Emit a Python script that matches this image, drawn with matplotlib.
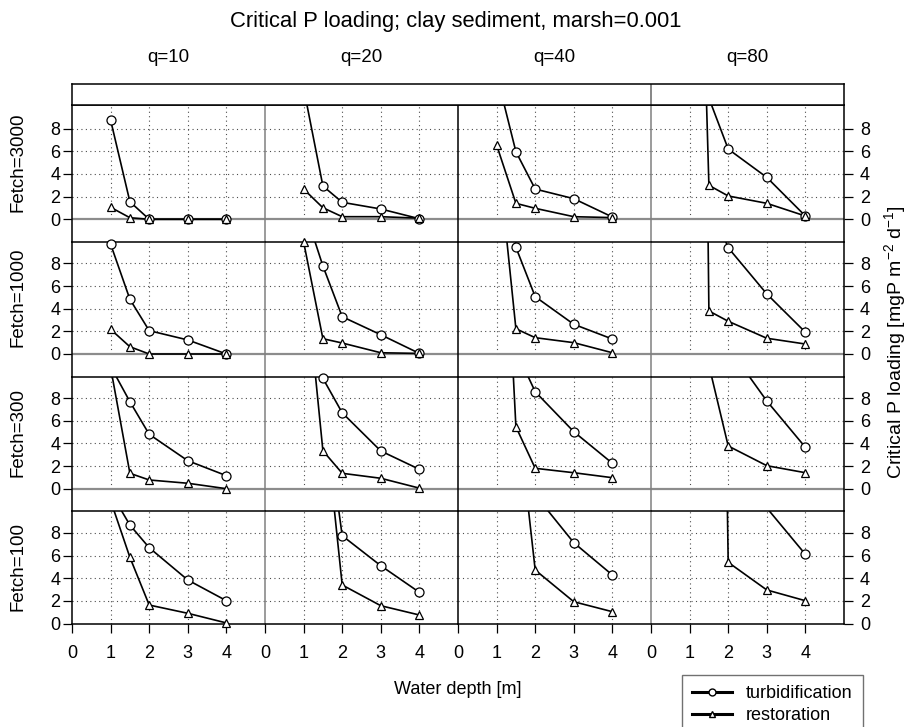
import matplotlib
matplotlib.use("Agg")
import matplotlib.pyplot as plt
from matplotlib.lines import Line2D

plt.rcParams['font.family'] = ['Liberation Sans', 'DejaVu Sans']
plt.rcParams['mathtext.default'] = 'regular'

# Daten
depths = [1, 1.5, 2, 3, 4]
fetch_labels = ['Fetch=3000', 'Fetch=1000', 'Fetch=300', 'Fetch=100']
q_labels = ['q=10', 'q=20', 'q=40', 'q=80']

turb_3000 = [[8.76, 1.55, 0, 0, 0], [11.6, 2.94, 1.5, 0.91, 0.05],
             [12.8, 5.97, 2.67, 1.82, 0.2], [40, 10.7, 6.2, 3.7, 0.29]]
resto_3000 = [[1.06, 0.14, 0, 0, 0], [2.67, 1.02, 0.23, 0.23, 0.1],
              [6.56, 1.41, 0.97, 0.23, 0.15], [62, 3.0, 2.06, 1.41, 0.29]]
turb_1000 = [[9.7, 4.83, 2.06, 1.24, 0], [13, 7.77, 3.29, 1.7, 0.05],
             [60, 9.42, 5.06, 2.62, 1.32], [80, 13.6, 9.38, 5.3, 1.92]]
resto_1000 = [[2.18, 0.64, 0, 0, 0], [9.9, 1.35, 0.97, 0.11, 0.05],
              [18.8, 2.23, 1.44, 1.0, 0.11], [156, 3.8, 2.89, 1.39, 0.88]]
turb_300 = [[10.8, 7.68, 4.8, 2.47, 1.15], [30, 9.74, 6.7, 3.33, 1.71],
            [50, 12.2, 8.56, 5.03, 2.24], [80, 40, 12.5, 7.74, 3.65]]
resto_300 = [[10.7, 1.36, 0.77, 0.48, 0], [20.5, 3.35, 1.36, 0.92, 0.05],
             [39, 5.47, 1.8, 1.41, 0.97], [50, 10.9, 3.77, 2.03, 1.41]]
turb_100 = [[11.6, 8.69, 6.69, 3.84, 2.01], [40, 20.3, 7.75, 5.1, 2.75],
            [80, 40, 11.35, 7.13, 4.28], [200, 80, 40, 10.2, 6.1]]
resto_100 = [[10.85, 5.84, 1.63, 0.9, 0.05], [40, 19.7, 3.4, 1.57, 0.75],
             [60, 20, 4.72, 1.92, 1.04], [200, 117, 5.4, 2.96, 2.01]]

turb_rows = [turb_3000, turb_1000, turb_300, turb_100]
resto_rows = [resto_3000, resto_1000, resto_300, resto_100]

# Layout in Pixeln
W, H = 908, 727
col_edges = [72, 265, 458, 651, 844]
row_tops = [105, 242, 376.7, 511.4]
row_zero = [219.3, 354, 488.7, 623.5]
row_bottoms = [242, 376.7, 511.4, 623.5]
scale = 11.33  # Pixel pro Einheit


def rect(x0, x1, y0, y1):
    return [x0 / W, 1 - y1 / H, (x1 - x0) / W, (y1 - y0) / H]


fig = plt.figure(figsize=(W / 100, H / 100), dpi=100)

grid_style = dict(color='0.3', lw=0.8, linestyle=(0, (1, 3)))

for r in range(4):
    lo = -(row_bottoms[r] - row_zero[r]) / scale
    hi = (row_zero[r] - row_tops[r]) / scale
    for c in range(4):
        ax = fig.add_axes(rect(col_edges[c], col_edges[c + 1], row_tops[r], row_bottoms[r]))
        ax.set_xlim(0, 5)
        ax.set_ylim(lo, hi)
        ax.patch.set_alpha(0)

        # Gitter
        for yy in [2, 4, 6, 8]:
            ax.axhline(yy, **grid_style, zorder=1)
        ax.vlines([1, 2, 3, 4], 0, hi, colors='0.3', lw=0.8,
                  linestyles=[(0, (1, 3))], zorder=1)
        if r < 3:
            ax.axhline(0, color='0.55', lw=1.6, zorder=2)

        # Kurven
        for vals, mk, ms in [(turb_rows[r][c], 'o', 6.5), (resto_rows[r][c], '^', 5.5)]:
            ax.plot(depths, vals, color='k', lw=1.2, zorder=3)
            xs = [d for d, v in zip(depths, vals) if v <= hi + 0.3]
            ys = [v for v in vals if v <= hi + 0.3]
            ax.plot(xs, ys, linestyle='none', marker=mk, ms=ms, mfc='white',
                    mec='k', mew=0.9, clip_on=False, zorder=4)

        # Rahmen
        for s in ax.spines.values():
            s.set_linewidth(1.1)
        ax.spines['bottom'].set_visible(r == 3)
        ax.spines['right'].set_visible(c == 3)
        if c in (1, 3):
            ax.spines['left'].set_color('0.5')

        # Achsen
        ax.tick_params(labelsize=13, length=6.5, width=0.9)
        if c == 0:
            ax.set_yticks([0, 2, 4, 6, 8])
            ax.tick_params(axis='y', left=True, labelleft=True, pad=2)
        elif c == 3:
            ax.set_yticks([0, 2, 4, 6, 8])
            ax.tick_params(axis='y', left=False, labelleft=False,
                           right=True, labelright=True, pad=5)
        else:
            ax.set_yticks([])
        if r == 3:
            ax.set_xticks([0, 1, 2, 3, 4])
            ax.tick_params(axis='x', pad=9)
        else:
            ax.set_xticks([])

# Kopfleiste
strip = fig.add_axes(rect(col_edges[0], col_edges[4], 84, 105))
strip.set_xlim(0, 4)
strip.set_xticks([])
strip.set_yticks([])
strip.axvline(3, color='0.4', lw=1.1)
for s in strip.spines.values():
    s.set_linewidth(1.1)

# Beschriftungen
fig.text(456 / W, 1 - 22 / H, 'Critical P loading; clay sediment, marsh=0.001',
         ha='center', va='center', fontsize=15.8)
for c, q in enumerate(q_labels):
    fig.text((col_edges[c] + col_edges[c + 1]) / 2 / W, 1 - 57 / H, q,
             ha='center', va='center', fontsize=13.5)
for r, f in enumerate(fetch_labels):
    fig.text(18 / W, 1 - (row_zero[r] - 5 * scale) / H, f, rotation=90,
             ha='center', va='center', fontsize=13.5)
fig.text(895 / W, 1 - 342 / H, 'Critical P loading [mgP m$^{-2}$ d$^{-1}$]',
         rotation=90, ha='center', va='center', fontsize=14)
fig.text(458 / W, 1 - 690 / H, 'Water depth [m]', ha='center', va='center', fontsize=13)

# Legende
handles = [Line2D([], [], color='k', lw=2.2, marker='o', ms=5, mfc='white', mec='k'),
           Line2D([], [], color='k', lw=2.2, marker='^', ms=4.5, mfc='white', mec='k')]
leg = fig.legend(handles, ['turbidification', 'restoration'], loc='upper left',
                 bbox_to_anchor=(682 / W, 1 - 675 / H), fontsize=13, frameon=True,
                 fancybox=False, edgecolor='0.3', handlelength=2.2,
                 handletextpad=0.8, borderpad=0.55, labelspacing=0.3,
                 borderaxespad=0)
leg.get_frame().set_linewidth(1.0)

plt.savefig('out.png', dpi=100)
